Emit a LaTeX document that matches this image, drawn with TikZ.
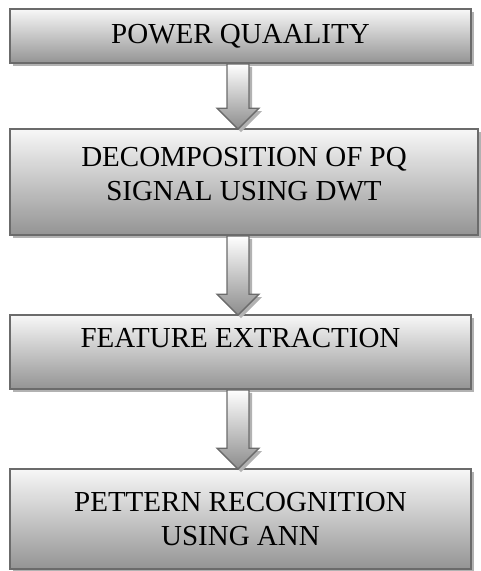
\documentclass[tikz,border=0pt]{standalone}
\usepackage{fontspec}
\setmainfont{Liberation Serif}
\usetikzlibrary{calc,shadows}
\newcommand\blockarr[2]{%
  \coordinate (s) at (#1 -| ax);
  \coordinate (e) at (#2 -| ax);
  \path[arrowstyle] ($(s)+(-11,0)$) -- ($(s)+(11,0)$) -- ($(e)+(11,-20)$) -- ($(e)+(21,-20)$) -- ($(e)+(0,1)$) -- ($(e)+(-21,-20)$) -- ($(e)+(-11,-20)$) -- cycle;}
\begin{document}
\begin{tikzpicture}[x=1pt,y=-1pt,
  boxstyle/.style={draw=black!58, line width=1.6pt, top color=black!3, bottom color=black!42,
    inner sep=0pt, drop shadow={shadow xshift=3pt, shadow yshift=-3pt, fill=black!30, opacity=1}},
  txt/.style={font=\fontsize{29}{34}\selectfont, align=center, inner sep=0pt, anchor=base, text=black},
  arrowstyle/.style={draw=black!58, line width=1.4pt, line join=miter, top color=white, bottom color=black!45,
    drop shadow={shadow xshift=3pt, shadow yshift=-3pt, fill=black!30, opacity=1}}]
\useasboundingbox (0,0) rectangle (480,571);
\coordinate (ax) at (238,0);
\node[boxstyle, minimum width=461pt, minimum height=54pt] (b1) at (240.5,36) {};
\node[boxstyle, minimum width=468pt, minimum height=106pt] (b2) at (244,182) {};
\node[boxstyle, minimum width=461pt, minimum height=74pt] (b3) at (240.5,352) {};
\node[boxstyle, minimum width=461pt, minimum height=100pt] (b4) at (240.5,519) {};
\node[txt] (t1) at (240.5,43) {POWER QUAALITY};
\node[txt] (t2) at (244,200) {DECOMPOSITION OF PQ\\SIGNAL USING DWT};
\node[txt] (t3) at (240.5,347) {FEATURE EXTRACTION};
\node[txt] (t4) at (240.5,545) {PETTERN RECOGNITION\\USING ANN};
\blockarr{b1.south}{b2.north}
\blockarr{b2.south}{b3.north}
\blockarr{b3.south}{b4.north}
\end{tikzpicture}
\end{document}
